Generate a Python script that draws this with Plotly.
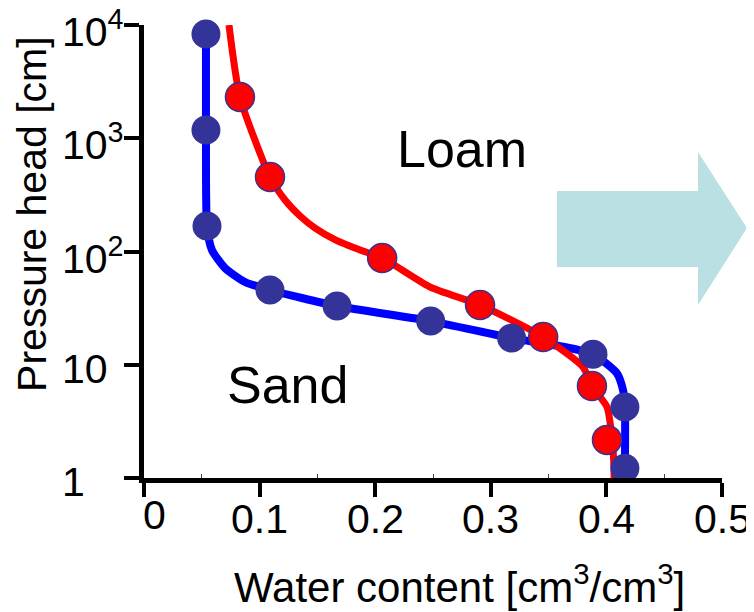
import math
import plotly.graph_objects as go

# ---- data ----
sand_theta = [0.0536, 0.0536, 0.0545, 0.109, 0.167, 0.248, 0.318, 0.3884, 0.416, 0.416]
sand_h = [8320, 1183, 168, 45.7, 33, 24.3, 17.2, 12.4, 4.24, 1.22]

sand_curve_theta = [0.0536, 0.0536, 0.0545, 0.0588, 0.0701, 0.0874, 0.109, 0.167, 0.248,
                    0.318, 0.360, 0.3884, 0.409, 0.4144, 0.416, 0.416]
sand_curve_h = [8320, 1183, 168, 103, 71.4, 53.8, 45.7, 33, 24.3,
                17.2, 14.6, 12.4, 8.45, 5.98, 4.24, 1.22]

loam_theta = [0.083, 0.109, 0.206, 0.2907, 0.3453, 0.3875, 0.4005]
loam_h = [2313, 455, 87.7, 33.7, 17.6, 6.49, 2.17]

loam_curve_theta = [0.0735, 0.083, 0.109, 0.122, 0.135, 0.148, 0.166, 0.187, 0.206, 0.2474,
                    0.2907, 0.3453, 0.3798, 0.3875, 0.4005, 0.405, 0.4066, 0.4066]
loam_curve_h = [10000, 2313, 455, 285, 206, 161, 126, 103, 87.7, 48.6,
                33.7, 17.6, 9.55, 6.49, 4.24, 2.17, 1.18, 1.0]

x_tick_vals = [0, 0.1, 0.2, 0.3, 0.4, 0.5]
x_tick_text = ["0", "0.1", "0.2", "0.3", "0.4", "0.5"]
y_tick_vals = [1, 10, 100, 1000, 10000]
y_tick_text = ["1", "10", "10<sup>2</sup>", "10<sup>3</sup>", "10<sup>4</sup>"]

FONT = "Arial, Liberation Sans, sans-serif"
NAVY = "#333399"

fig = go.Figure()

fig.add_trace(go.Scatter(x=sand_curve_theta, y=sand_curve_h, mode="lines",
                         line=dict(color="#0000FF", width=8, shape="spline", smoothing=0.6),
                         cliponaxis=False, hoverinfo="skip"))
fig.add_trace(go.Scatter(x=loam_curve_theta, y=loam_curve_h, mode="lines",
                         line=dict(color="#FF0000", width=7, shape="spline", smoothing=0.6),
                         cliponaxis=False, hoverinfo="skip"))
fig.add_trace(go.Scatter(x=sand_theta, y=sand_h, mode="markers",
                         marker=dict(color=NAVY, size=29, line=dict(width=0)),
                         cliponaxis=False))
fig.add_trace(go.Scatter(x=loam_theta, y=loam_h, mode="markers",
                         marker=dict(color="#FF0000", size=29, line=dict(color=NAVY, width=1.5)),
                         cliponaxis=False))

# arrow decoration (paper coords)
fig.add_shape(type="path", xref="paper", yref="paper", layer="below",
              path="M 0.7145 0.6336 L 0.9585 0.6336 L 0.9585 0.7196 L 1.0433 0.5519 "
                   "L 0.9585 0.3819 L 0.9585 0.4658 L 0.7145 0.4658 Z",
              fillcolor="#BBE0E3", line=dict(width=0))

ann = []
# y tick labels (left aligned); log axis -> annotation y in log10 units
for v, t in zip(y_tick_vals, y_tick_text):
    ann.append(dict(x=-0.1454, xref="paper", y=math.log10(v), yref="y", text=t, showarrow=False,
                    xanchor="left", yanchor="middle", yshift=-4,
                    font=dict(family=FONT, size=41, color="black")))
# x tick labels
for v, t in zip(x_tick_vals, x_tick_text):
    ann.append(dict(x=v, xref="x", y=0, yref="paper", text=t, showarrow=False,
                    xanchor="center", yanchor="top", yshift=-16 if v != 0 else -12,
                    xshift=10 if v == 0 else 0,
                    font=dict(family=FONT, size=41, color="black")))
# axis titles
ann.append(dict(x=-0.1938, xref="paper", y=0.583, yref="paper", text="Pressure head [cm]",
                showarrow=False, textangle=-90, xanchor="center", yanchor="middle",
                font=dict(family=FONT, size=41, color="black")))
ann.append(dict(x=0.5467, xref="paper", y=-0.234, yref="paper",
                text="Water content [cm<sup>3</sup>/cm<sup>3</sup>]",
                showarrow=False, xanchor="center", yanchor="middle",
                font=dict(family=FONT, size=42, color="black")))
# labels
ann.append(dict(x=0.5502, xref="paper", y=0.726, yref="paper", text="Loam", showarrow=False,
                xanchor="center", yanchor="middle", font=dict(family=FONT, size=52, color="black")))
ann.append(dict(x=0.2491, xref="paper", y=0.2053, yref="paper", text="Sand", showarrow=False,
                xanchor="center", yanchor="middle", font=dict(family=FONT, size=52, color="black")))

# page has an 8px body margin: shrink figure and margins accordingly
fig.update_layout(
    width=746, height=604,
    margin=dict(l=136, r=32, t=17, b=134),
    plot_bgcolor="white", paper_bgcolor="white",
    showlegend=False,
    annotations=ann,
    xaxis=dict(range=[0, 0.5], showgrid=False, zeroline=False, showline=True,
               linecolor="black", linewidth=5, ticks="outside", ticklen=14, tickwidth=4,
               tickcolor="black", tickvals=x_tick_vals, showticklabels=False,
               minor=dict(ticks="inside", ticklen=4, tickwidth=1, tickcolor="#444",
                          tickvals=[0.05, 0.15, 0.25, 0.35, 0.45])),
    yaxis=dict(type="log", range=[0, 4], showgrid=False, zeroline=False, showline=True,
               linecolor="black", linewidth=5, ticks="outside", ticklen=15, tickwidth=4,
               tickcolor="black", tickvals=y_tick_vals, showticklabels=False),
)

fig.write_html("out.html")
